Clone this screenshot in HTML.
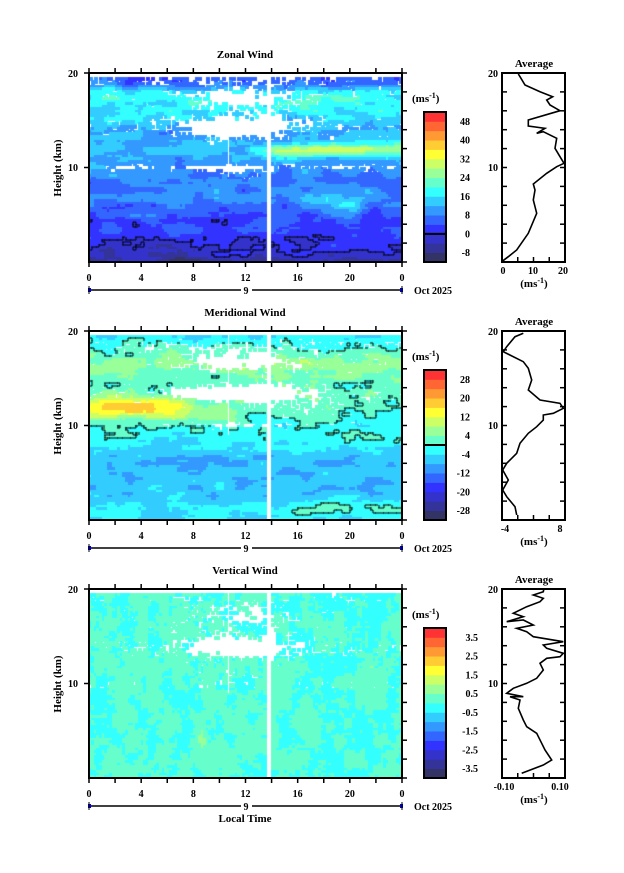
<!DOCTYPE html>
<html><head><meta charset="utf-8">
<style>
html,body{margin:0;padding:0;background:#fff;}
#wrap{position:relative;width:624px;height:873px;overflow:hidden;background:#fff;}
canvas{position:absolute;}
svg{position:absolute;left:0;top:0;}
text{font-family:"Liberation Serif",serif;font-weight:bold;fill:#000;}
</style></head><body>
<div id="wrap">
<canvas id="c0" width="313" height="189" style="left:89px;top:73px"></canvas>
<canvas id="c1" width="313" height="189" style="left:89px;top:331px"></canvas>
<canvas id="c2" width="313" height="189" style="left:89px;top:589px"></canvas>
<svg id="s" width="624" height="873" viewBox="0 0 624 873"></svg>
</div>
<script>
const COLS=['#333366','#333399','#3333cc','#3333ff','#3366ff','#3399ff','#33ccff','#33ffff','#66ffcc','#99ff99','#ccff66','#ffff33','#ffcc33','#ff9933','#ff6633','#ff3333'];
function hash(i,j,s){let n=i*374761393+j*668265263+s*982451653;n=(n^(n>>>13))*1274126177;n=n^(n>>>16);return ((n>>>0)%10000)/10000;}
function vn(x,y,s){const i=Math.floor(x),j=Math.floor(y),fx=x-i,fy=y-j;const a=hash(i,j,s),b=hash(i+1,j,s),c=hash(i,j+1,s),d=hash(i+1,j+1,s);const ux=fx*fx*(3-2*fx),uy=fy*fy*(3-2*fy);return a+(b-a)*ux+(c-a)*uy+(a-b-c+d)*ux*uy;}
function fbm(x,y,s){return (vn(x,y,s)*0.55+vn(x*2.1,y*2.1,s+7)*0.3+vn(x*4.3,y*4.3,s+13)*0.15)*2-1;}
function pl(pts,h){for(let k=0;k<pts.length-1;k++){if(h<=pts[k+1][0]){const a=pts[k],b=pts[k+1];return a[1]+(b[1]-a[1])*(h-a[0])/(b[0]-a[0]);}}return pts[pts.length-1][1];}
function ss(x,a,b){let t=Math.min(1,Math.max(0,(x-a)/(b-a)));return t*t*(3-2*t);}
function g(x,w){return Math.exp(-(x/w)*(x/w));}
const NX=120,NY=76,CW=313/NX,CH=189/NY;
function whiteMask(t,h,s,kind){
  if(t>13.65&&t<14.1)return true;
  if(h>19.6)return true;
  let p=0;
  const mid=g(t-11.5,4.5);
  if(kind==2){p=0.55*g(h-13.8,1.3)*(0.4+mid)+0.35*g(h-17,1.5)*(0.3+mid)+0.35*g(h-9.9,0.35)+0.3*g(h-11,0.6)*g(t-11,2.5)+0.2*g(h-19,0.6);}
  else if(kind==0){p=0.7*g(h-14.3,1.3)*(0.35+mid)+0.45*g(h-17.5,1.2)*(0.4+mid)+0.45*g(h-10,0.4)+0.35*g(h-9.5,0.8)*g(t-11,3)+0.3*g(h-19.2,0.5);}
  else {p=0.75*g(h-13.5,1.0)*(0.3+mid)+0.5*g(h-16.8,1.3)*(0.35+mid)+0.3*g(h-18.5,0.6)+0.3*g(h-10,0.4)*(0.5+mid)+0.25*g(h-12,1.5)*g(t-16,5);}
  if((Math.abs(t-7.6)<0.06||Math.abs(t-10.7)<0.05)&&h>9)p+=0.6;
  const n=hash(Math.floor(t*5),Math.floor(h*3.8),s+99)*0.5+vn(t*1.5,h*2.5,s+55)*0.5;
  return n<p*1.35;
}
function zonal(t,h){
  let b=pl([[0,-6],[0.8,-2],[1.5,1],[3,3],[4.5,4],[6,7],[7,9],[8.5,7],[9.5,9],[11,11],[12,13],[13,12],[14,11],[15,14],[16,17],[17,19],[18,17],[18.8,7],[20,4]],h);
  b+=16*g(h-11.8,0.7)*ss(t,11,16);
  b+=8*g(h-6,0.8)*ss(t,15,18)*(1-ss(t,20,22));
  b-=4*g(h-1.5,1.0)*(1-ss(t,6,12));
  return b+6*fbm(t*0.6,h*1.2,1);
}
function merid(t,h){
  let b=pl([[0,-4],[1,-3],[2,-6],[4,-7],[6,-8],[7.5,-5],[8.5,-2],[9.5,-1],[10.5,-1],[12,1],[13,2],[14.5,2],[15.5,4],[16.5,6],[17.5,2],[18.5,-1],[19.5,-4],[20,-4]],h);
  b+=16*g(h-11.8,1.1)*(1-ss(t,6,9));
  b+=7*g(h-11,1.2)*g(t-10,2);
  b+=5*g(h-1.5,0.7)*ss(t,14,17);
  return b+5*fbm(t*0.6,h*1.2,2);
}
function vert(t,h){return 0.05+0.45*fbm(t*1.2,h*0.5,3)+0.25*fbm(t*3,h*3,4)+0.9*g(t-8.7,0.4)*g(h-4,0.8);}
const cfg=[[zonal,-12,4,0,true],[merid,-32,4,1,true],[vert,-4,0.5,2,false]];
cfg.forEach((c,pi)=>{
  const ctx=document.getElementById('c'+pi).getContext('2d');
  const idx=[],val=[];
  for(let i=0;i<NX;i++){idx[i]=[];val[i]=[];for(let j=0;j<NY;j++){
    const t=(i+0.5)/NX*24,h=(NY-j-0.5)/NY*20;
    if(whiteMask(t,h,pi,c[3])){idx[i][j]=-1;continue;}
    const v=c[0](t,h);val[i][j]=v;
    idx[i][j]=Math.max(0,Math.min(15,Math.floor((v-c[1])/c[2])));
  }}
  for(let i=0;i<NX;i++)for(let j=0;j<NY;j++){if(idx[i][j]<0)continue;ctx.fillStyle=COLS[idx[i][j]];ctx.fillRect(Math.floor(i*CW),Math.floor(j*CH),Math.ceil(CW)+1,Math.ceil(CH)+1);}
  if(c[4]){ctx.fillStyle='#000';
    for(let i=0;i<NX;i++)for(let j=0;j<NY;j++){if(idx[i][j]<0)continue;const s=val[i][j]>=0;
      if(i+1<NX&&idx[i+1][j]>=0&&(val[i+1][j]>=0)!=s)ctx.fillRect(Math.round((i+1)*CW)-0.5,Math.floor(j*CH),1,Math.ceil(CH));
      if(j+1<NY&&idx[i][j+1]>=0&&(val[i][j+1]>=0)!=s)ctx.fillRect(Math.floor(i*CW),Math.round((j+1)*CH)-0.5,Math.ceil(CW),1);}
  }
});
let S='';
const X0=89,X1=402;
const titles=['Zonal Wind','Meridional Wind','Vertical Wind'];
const cblab=[[['48',0],['40',2],['32',4],['24',6],['16',8],['8',10],['0',12],['-8',14]],[['28',1],['20',3],['12',5],['4',7],['-4',9],['-12',11],['-20',13],['-28',15]],[['3.5',1],['2.5',3],['1.5',5],['0.5',7],['-0.5',9],['-1.5',11],['-2.5',13],['-3.5',15]]];
for(let p=0;p<3;p++){
  const T=73+258*p,B=T+189;
  S+=`<text x="245" y="${T-15}" font-size="11" text-anchor="middle">${titles[p]}</text>`;
  S+=`<rect x="${X0}" y="${T}" width="${X1-X0}" height="189" fill="none" stroke="#000" stroke-width="2"/>`;
  for(let k=0;k<=12;k++){const x=X0+(X1-X0)*k/12;S+=`<line x1="${x}" y1="${T}" x2="${x}" y2="${T-5}" stroke="#000" stroke-width="1.5"/><line x1="${x}" y1="${B}" x2="${x}" y2="${B+5}" stroke="#000" stroke-width="1.5"/>`;}
  for(let k=0;k<=10;k++){const y=T+189*k/10;S+=`<line x1="${X1}" y1="${y}" x2="${X1+5}" y2="${y}" stroke="#000" stroke-width="1.5"/>`;if(k==0||k==5)S+=`<line x1="${X0}" y1="${y}" x2="${X0-5}" y2="${y}" stroke="#000" stroke-width="1.5"/>`;}
  S+=`<text x="78" y="${T+4}" font-size="10" text-anchor="end">20</text><text x="78" y="${T+98}" font-size="10" text-anchor="end">10</text>`;
  S+=`<text transform="translate(61,${T+95}) rotate(-90)" font-size="11" text-anchor="middle">Height (km)</text>`;
  ['0','4','8','12','16','20','0'].forEach((l,k)=>{S+=`<text x="${X0+(X1-X0)*k/6}" y="${B+19}" font-size="10" text-anchor="middle">${l}</text>`;});
  const dy=B+28;
  S+=`<line x1="${X0}" y1="${dy}" x2="241" y2="${dy}" stroke="#000" stroke-width="1.5"/><line x1="252" y1="${dy}" x2="${X1}" y2="${dy}" stroke="#000" stroke-width="1.5"/><text x="246" y="${dy+4}" font-size="10" text-anchor="middle">9</text>`;
  S+=`<rect x="${X0-1}" y="${dy-2}" width="3" height="4" fill="#00c"/><rect x="${X1-2}" y="${dy-2}" width="3" height="4" fill="#00c"/><line x1="${X0}" y1="${dy-4}" x2="${X0}" y2="${dy+4}" stroke="#000"/><line x1="${X1}" y1="${dy-4}" x2="${X1}" y2="${dy+4}" stroke="#000"/>`;
  S+=`<text x="414" y="${dy+4}" font-size="10">Oct 2025</text>`;
  const cT=T+39,cB=B,ch=(cB-cT)/16;
  for(let k=0;k<16;k++)S+=`<rect x="424" y="${cB-(k+1)*ch}" width="22" height="${ch+0.4}" fill="${COLS[k]}"/>`;
  S+=`<rect x="424" y="${cT}" width="22" height="${cB-cT}" fill="none" stroke="#000" stroke-width="2"/>`;
  if(p==0)S+=`<line x1="424" y1="${cB-3*ch}" x2="446" y2="${cB-3*ch}" stroke="#000" stroke-width="2"/>`;
  if(p==1)S+=`<line x1="424" y1="${cB-8*ch}" x2="446" y2="${cB-8*ch}" stroke="#000" stroke-width="2"/>`;
  S+=`<text x="412" y="${cT-10}" font-size="11">(ms<tspan dy="-4" font-size="8">-1</tspan><tspan dy="4">)</tspan></text>`;
  cblab[p].forEach(([l,k])=>{const y=cT+ch*(p==0?k+1:k)+3.5;S+=`<text x="${p==2?478:470}" y="${y}" font-size="10" text-anchor="end">${l}</text>`;});
  const AX0=502,AX1=565;
  S+=`<text x="534" y="${T-6}" font-size="11" text-anchor="middle">Average</text>`;
  S+=`<rect x="${AX0}" y="${T}" width="${AX1-AX0}" height="189" fill="none" stroke="#000" stroke-width="2"/>`;
  for(let k=1;k<10;k++){const y=T+189*k/10;S+=`<line x1="${AX0}" y1="${y}" x2="${AX0+5}" y2="${y}" stroke="#000" stroke-width="1.5"/><line x1="${AX1}" y1="${y}" x2="${AX1-5}" y2="${y}" stroke="#000" stroke-width="1.5"/>`;}
  for(let k=1;k<4;k++){const x=AX0+(AX1-AX0)*k/4;S+=`<line x1="${x}" y1="${B}" x2="${x}" y2="${B-5}" stroke="#000" stroke-width="1.5"/>`;}
  S+=`<text x="498" y="${T+4}" font-size="10" text-anchor="end">20</text><text x="498" y="${T+98}" font-size="10" text-anchor="end">10</text>`;
  S+=`<text x="534" y="${B+25}" font-size="11" text-anchor="middle">(ms<tspan dy="-4" font-size="8">-1</tspan><tspan dy="4">)</tspan></text>`;
}
S+=`<text x="503" y="274" font-size="10" text-anchor="middle">0</text><text x="533" y="274" font-size="10" text-anchor="middle">10</text><text x="563" y="274" font-size="10" text-anchor="middle">20</text>`;
S+=`<text x="505" y="532" font-size="10" text-anchor="middle">-4</text><text x="560" y="532" font-size="10" text-anchor="middle">8</text>`;
S+=`<text x="504" y="790" font-size="10" text-anchor="middle">-0.10</text><text x="560" y="790" font-size="10" text-anchor="middle">0.10</text>`;
S+=`<text x="245" y="822" font-size="11" text-anchor="middle">Local Time</text>`;
const z=[[305,665],[325,650],[350,630],[385,580],[410,520],[400,480],[405,450],[400,432],[440,400],[470,380],[492,370],[480,350],[465,325],[470,295],[430,275],[410,280],[435,265],[385,258],[385,240],[480,212],[450,195],[440,180],[458,170],[420,155],[375,135],[360,110],[355,102]];
const m=[[350,645],[345,620],[320,590],[308,570],[325,540],[308,510],[320,490],[350,460],[360,430],[385,400],[410,380],[430,360],[430,345],[460,340],[490,325],[480,310],[420,300],[385,270],[395,240],[385,205],[370,185],[310,155],[320,140],[345,110],[370,100]];
const w=[[365,1420],[430,1395],[455,1380],[435,1350],[425,1330],[410,1300],[380,1280],[370,1260],[355,1225],[360,1200],[330,1190],[370,1190],[320,1180],[340,1165],[380,1150],[410,1135],[430,1110],[420,1090],[440,1075],[480,1070],[490,1060],[440,1045],[430,1035],[490,1025],[400,1010],[380,995],[350,985],[400,975],[370,960],[320,965],[370,950],[340,940],[380,920],[420,905],[430,895],[400,885],[430,875],[432,865]];
function poly(pts,ox,oy){return `<polyline fill="none" stroke="#000" stroke-width="1.6" points="${pts.map(p=>(ox+p[0]/3).toFixed(1)+','+(oy+p[1]/3).toFixed(1)).join(' ')}"/>`;}
S+=poly(z,400,40)+poly(m,400,300)+poly(w,400,300);
document.getElementById('s').innerHTML=S;
</script>
</body></html>
